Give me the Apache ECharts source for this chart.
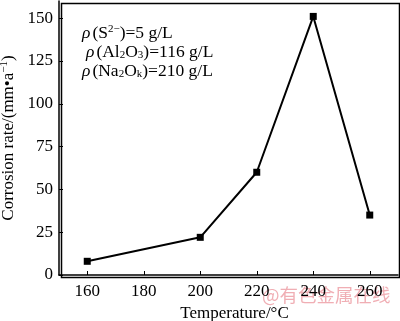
<!DOCTYPE html>
<html>
<head>
<meta charset="utf-8">
<script src="https://cdn.jsdelivr.net/npm/echarts@6/dist/echarts.min.js"></script>
<style>
  html, body { margin: 0; padding: 0; background: #fff; }
  #chart { width: 400px; height: 321px; }
</style>
</head>
<body>
<div id="chart"></div>
<script>
// data
var temperatures = [160, 200, 220, 240, 260];
var corrosionRate = [8, 22, 60, 151, 35];
var xTicks = [160, 180, 200, 220, 240, 260];
var yTicks = [0, 25, 50, 75, 100, 125, 150];

document.addEventListener("DOMContentLoaded", function() {
    var dom = document.getElementById('chart');
    var chart = echarts.init(dom);
    var serif = '"Liberation Serif", "DejaVu Serif", serif';

    var points = temperatures.map(function(t, i) { return [t, corrosionRate[i]]; });

    var rich = {
        sup: { fontSize: 11, verticalAlign: 'top', padding: [0, 0, 7, 0], fontFamily: serif, color: '#000' },
        sub: { fontSize: 11, verticalAlign: 'bottom', padding: [7, 0, 0, 0], fontFamily: serif, color: '#000' },
        rho: { fontSize: 17.5, fontStyle: 'italic', fontFamily: serif, color: '#000', padding: [0, 2, 0, 0] }
    };

    var option = {
        animation: false,
        backgroundColor: '#fff',
        grid: { left: 59, right: 2, top: 1, bottom: 46, containLabel: false, outerBoundsMode: 'none' },
        xAxis: {
            type: 'value',
            min: 150,
            max: 270,
            interval: 20,
            name: 'Temperature/°C',
            nameLocation: 'middle',
            nameGap: 30,
            nameTextStyle: { fontFamily: serif, fontSize: 17, color: '#000', padding: [0, 0, 0, 12] },
            axisLine: { show: true, lineStyle: { color: '#000', width: 1.5 } },
            axisTick: { show: true, inside: true, length: 4, lineStyle: { color: '#000' },
                customValues: xTicks },
            axisLabel: { fontFamily: serif, fontSize: 17, color: '#000', margin: 8,
                customValues: xTicks },
            splitLine: { show: false }
        },
        yAxis: {
            type: 'value',
            min: 0,
            max: 160,
            name: 'Corrosion rate/(mm•a{sup|−1})',
            nameLocation: 'middle',
            nameGap: 37,
            nameRotate: 90,
            nameTextStyle: { fontFamily: serif, fontSize: 17, color: '#000', rich: rich },
            axisLine: { show: true, lineStyle: { color: '#000', width: 1.5 } },
            axisTick: { show: true, inside: true, length: 4, lineStyle: { color: '#000' },
                customValues: yTicks },
            axisLabel: { fontFamily: serif, fontSize: 17, color: '#000', margin: 6,
                customValues: yTicks },
            splitLine: { show: false }
        },
        series: [
            {
                type: 'line',
                data: points,
                symbol: 'rect',
                symbolSize: 7,
                lineStyle: { color: '#000', width: 2 },
                itemStyle: { color: '#000' }
            }
        ],
        graphic: [
            { type: 'rect', left: 59, top: 1, shape: { width: 338, height: 274 },
              style: { fill: 'none', stroke: '#000', lineWidth: 1.5 }, silent: true },
            { type: 'text', left: 82, top: 24, style: {
                text: '{rho|ρ}(S{sup|2−})=5 g/L', fontFamily: serif, fontSize: 17.5, fill: '#000', rich: rich } },
            { type: 'text', left: 86, top: 43, style: {
                text: '{rho|ρ}(Al{sub|2}O{sub|3})=116 g/L', fontFamily: serif, fontSize: 17.5, fill: '#000', rich: rich } },
            { type: 'text', left: 82, top: 62, style: {
                text: '{rho|ρ}(Na{sub|2}O{sub|k})=210 g/L', fontFamily: serif, fontSize: 17.5, fill: '#000', rich: rich } },
            { type: 'text', left: 262, top: 286, style: {
                text: '@有色金属在线', fontFamily: '"Noto Sans CJK SC", sans-serif', fontSize: 18.5, fill: 'rgba(232,130,140,0.65)' } }
        ]
    };
    chart.setOption(option);

    window.addEventListener('resize', function() {
        chart.resize();
    });
});
</script>
</body>
</html>
